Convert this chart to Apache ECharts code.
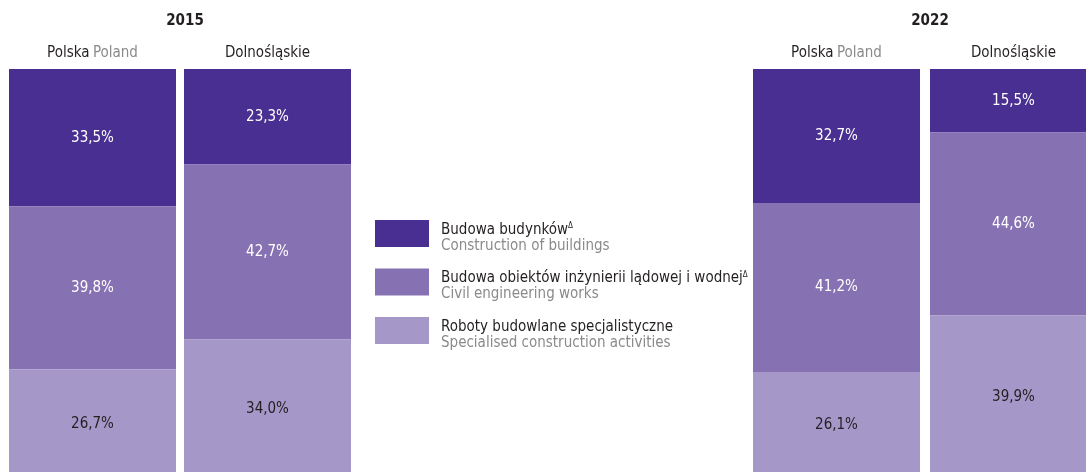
<!DOCTYPE html>
<html><head><meta charset="utf-8">
<script src="https://cdn.jsdelivr.net/npm/echarts@6/dist/echarts.min.js"></script>
<style>html,body{margin:0;padding:0;background:#fff}#c{width:1086px;height:472px}</style>
</head><body><div id="c"></div>
<script>
const years = ['2015', '2022'];
const categoriesPl = ['Polska', 'Dolnośląskie'];
const categoriesEn = ['Poland', ''];
const seriesNamesPl = ['Budowa budynków', 'Budowa obiektów inżynierii lądowej i wodnej', 'Roboty budowlane specjalistyczne'];
const seriesNamesEn = ['Construction of buildings', 'Civil engineering works', 'Specialised construction activities'];
const seriesMarks = ['Δ', 'Δ', ''];
const buildings2015 = [33.5, 23.3];
const civil2015 = [39.8, 42.7];
const specialised2015 = [26.7, 34.0];
const buildings2022 = [32.7, 15.5];
const civil2022 = [41.2, 44.6];
const specialised2022 = [26.1, 39.9];

const FONT = '"Liberation Sans Narrow", "DejaVu Sans Condensed", sans-serif';
const colors = ['#482f91', '#8672b2', '#a598c9'];
const labelColors = ['#ffffff', '#ffffff', '#231f20'];
const dataByYear = [[buildings2015, civil2015, specialised2015], [buildings2022, civil2022, specialised2022]];

const grids = [
  {left: 5, width: 350, top: 69, height: 410, outerBoundsMode: 'none', containLabel: false},
  {left: 748, width: 354, top: 69, height: 410, outerBoundsMode: 'none', containLabel: false}
];
const xAxes = grids.map((g, i) => ({
  gridIndex: i, type: 'category', position: 'top', data: categoriesPl,
  axisLine: {show: false}, axisTick: {show: false},
  axisLabel: {
    margin: 8,
    formatter: (v, idx) => categoriesEn[idx] ? '{a|' + v + '} {b|' + categoriesEn[idx] + '}' : '{a|' + v + '}',
    rich: {
      a: {fontFamily: FONT, fontSize: 15, color: '#231f20'},
      b: {fontFamily: FONT, fontSize: 15, color: '#8a8a8a'}
    }
  }
}));
const yAxes = grids.map((g, i) => ({
  gridIndex: i, type: 'value', min: 0, max: 100, inverse: true, show: false
}));
const series = [];
dataByYear.forEach((arrs, gi) => {
  arrs.forEach((arr, si) => {
    series.push({
      name: seriesNamesPl[si], type: 'bar', stack: 'y' + gi,
      xAxisIndex: gi, yAxisIndex: gi, barWidth: 167,
      itemStyle: {color: colors[si]},
      label: {
        show: true, position: 'inside', color: labelColors[si],
        fontFamily: FONT, fontSize: 15,
        formatter: p => p.value.toFixed(1).replace('.', ',') + '%'
      },
      emphasis: {disabled: true},
      data: arr
    });
  });
});

const chart = echarts.init(document.getElementById('c'));
chart.setOption({
  animation: false,
  title: [
    {text: years[0], left: 180, top: 9, textAlign: 'center', textStyle: {fontFamily: FONT, fontSize: 15, fontWeight: 'bold', color: '#231f20'}},
    {text: years[1], left: 925, top: 9, textAlign: 'center', textStyle: {fontFamily: FONT, fontSize: 15, fontWeight: 'bold', color: '#231f20'}}
  ],
  legend: {
    orient: 'vertical', left: 370, top: 215,
    itemWidth: 54, itemHeight: 27, itemGap: 15,
    icon: 'rect',
    data: seriesNamesPl,
    selectedMode: false,
    formatter: name => {
      const i = seriesNamesPl.indexOf(name);
      return '{a|' + name + '}' + (seriesMarks[i] ? '{s|' + seriesMarks[i] + '}' : '') + '\n{b|' + seriesNamesEn[i] + '}';
    },
    textStyle: {
      padding: [9, 0, 0, 7],
      rich: {
        a: {fontFamily: FONT, fontSize: 15, color: '#231f20', lineHeight: 16},
        s: {fontFamily: FONT, fontSize: 8, color: '#231f20', verticalAlign: 'top', lineHeight: 16},
        b: {fontFamily: FONT, fontSize: 15, color: '#8a8a8a', lineHeight: 16}
      }
    }
  },
  grid: grids,
  xAxis: xAxes,
  yAxis: yAxes,
  series: series
});
</script></body></html>
